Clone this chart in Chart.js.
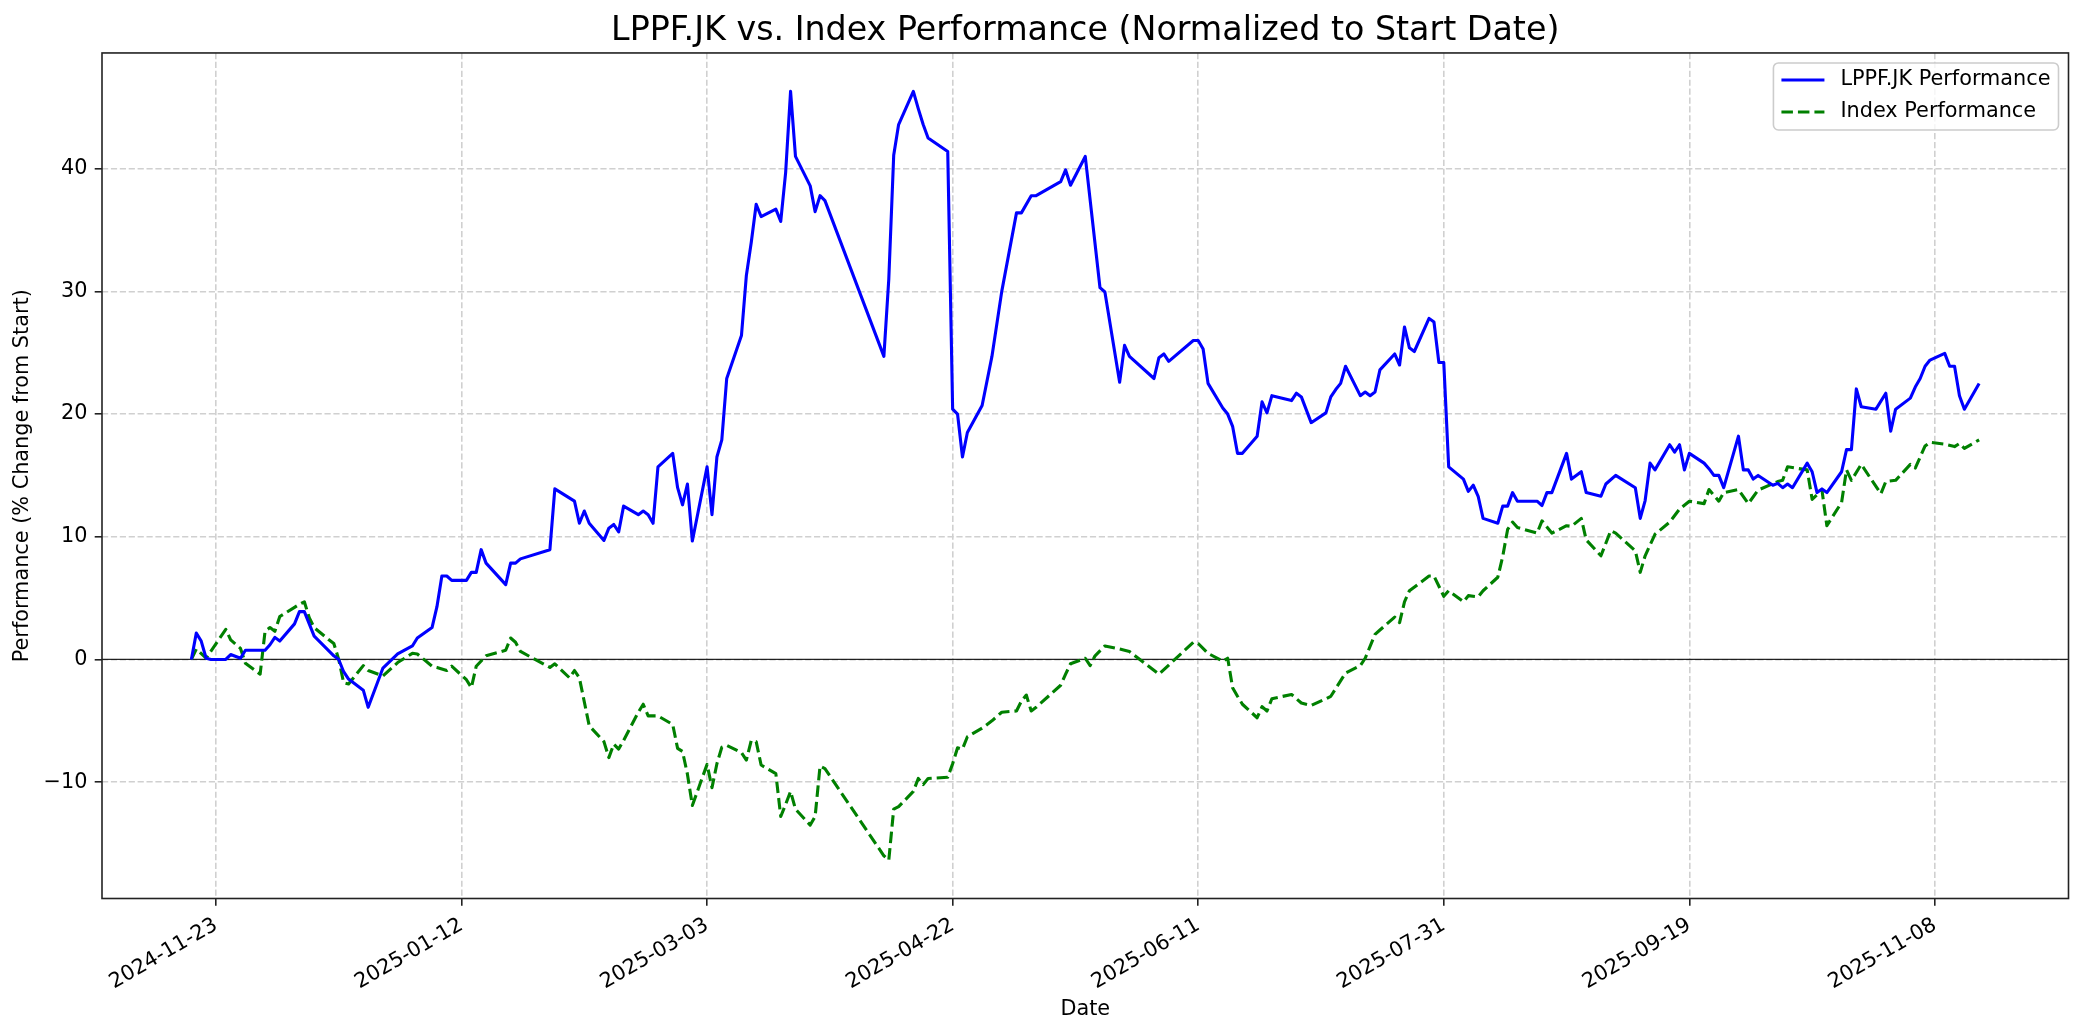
<!DOCTYPE html>
<html>
<head>
<meta charset="utf-8">
<title>LPPF.JK vs. Index Performance</title>
<script src="https://cdn.jsdelivr.net/npm/chart.js@4.4.1/dist/chart.umd.min.js"></script>
<style>
  html, body { margin: 0; padding: 0; background: #ffffff; }
  #chart { display: block; }
</style>
</head>
<body>
<canvas id="chart" width="2084" height="1035" style="width:2084px;height:1035px"></canvas>
<script>
// LPPF.JK, % change from 2024-11-18
const lppfDates = [
  '2024-11-18','2024-11-19','2024-11-20','2024-11-21','2024-11-22','2024-11-25','2024-11-26','2024-11-28','2024-11-29','2024-12-03',
  '2024-12-04','2024-12-05','2024-12-06','2024-12-09','2024-12-10','2024-12-11','2024-12-13','2024-12-17','2024-12-18','2024-12-19',
  '2024-12-20','2024-12-23','2024-12-24','2024-12-27','2024-12-30','2025-01-02','2025-01-03','2025-01-06','2025-01-07','2025-01-08',
  '2025-01-09','2025-01-10','2025-01-13','2025-01-14','2025-01-15','2025-01-16','2025-01-17','2025-01-21','2025-01-22','2025-01-23',
  '2025-01-24','2025-01-30','2025-01-31','2025-02-04','2025-02-05','2025-02-06','2025-02-07','2025-02-10','2025-02-11','2025-02-12',
  '2025-02-13','2025-02-14','2025-02-17','2025-02-18','2025-02-19','2025-02-20','2025-02-21','2025-02-24','2025-02-25','2025-02-26',
  '2025-02-27','2025-02-28','2025-03-03','2025-03-04','2025-03-05','2025-03-06','2025-03-07','2025-03-10','2025-03-11','2025-03-12',
  '2025-03-13','2025-03-14','2025-03-17','2025-03-18','2025-03-19','2025-03-20','2025-03-21','2025-03-24','2025-03-25','2025-03-26',
  '2025-03-27','2025-04-08','2025-04-09','2025-04-10','2025-04-11','2025-04-14','2025-04-15','2025-04-16','2025-04-17','2025-04-21',
  '2025-04-22','2025-04-23','2025-04-24','2025-04-25','2025-04-28','2025-04-30','2025-05-02','2025-05-05','2025-05-06','2025-05-08',
  '2025-05-09','2025-05-14','2025-05-15','2025-05-16','2025-05-19','2025-05-22','2025-05-23','2025-05-26','2025-05-27','2025-05-28',
  '2025-06-02','2025-06-03','2025-06-04','2025-06-05','2025-06-10','2025-06-11','2025-06-12','2025-06-13','2025-06-16','2025-06-17',
  '2025-06-18','2025-06-19','2025-06-20','2025-06-23','2025-06-24','2025-06-25','2025-06-26','2025-06-30','2025-07-01','2025-07-02',
  '2025-07-04','2025-07-07','2025-07-08','2025-07-09','2025-07-10','2025-07-11','2025-07-14','2025-07-15','2025-07-16','2025-07-17',
  '2025-07-18','2025-07-21','2025-07-22','2025-07-23','2025-07-24','2025-07-25','2025-07-28','2025-07-29','2025-07-30','2025-07-31',
  '2025-08-01','2025-08-04','2025-08-05','2025-08-06','2025-08-07','2025-08-08','2025-08-11','2025-08-12','2025-08-13','2025-08-14',
  '2025-08-15','2025-08-19','2025-08-20','2025-08-21','2025-08-22','2025-08-25','2025-08-26','2025-08-28','2025-08-29','2025-09-01',
  '2025-09-02','2025-09-04','2025-09-08','2025-09-09','2025-09-10','2025-09-11','2025-09-12','2025-09-15','2025-09-16','2025-09-17',
  '2025-09-18','2025-09-19','2025-09-22','2025-09-23','2025-09-24','2025-09-25','2025-09-26','2025-09-29','2025-09-30','2025-10-01',
  '2025-10-02','2025-10-03','2025-10-06','2025-10-07','2025-10-08','2025-10-09','2025-10-10','2025-10-13','2025-10-14','2025-10-15',
  '2025-10-16','2025-10-17','2025-10-20','2025-10-21','2025-10-22','2025-10-23','2025-10-24','2025-10-27','2025-10-29','2025-10-30',
  '2025-10-31','2025-11-03','2025-11-04','2025-11-05','2025-11-06','2025-11-07','2025-11-10','2025-11-11','2025-11-12','2025-11-13',
  '2025-11-14','2025-11-17'
];
const lppfValues = [
  0.0, 2.15, 1.5, 0.1, 0.0, 0.0, 0.4, 0.1, 0.75, 0.75,
  1.2, 1.8, 1.5, 2.9, 3.9, 3.9, 1.9, 0.3, 0.0, -1.0,
  -1.6, -2.5, -3.9, -0.7, 0.45, 1.1, 1.75, 2.6, 4.3, 6.8,
  6.8, 6.45, 6.45, 7.1, 7.1, 8.95, 7.85, 6.1, 7.85, 7.85,
  8.2, 8.95, 13.9, 12.9, 11.1, 12.1, 11.1, 9.7, 10.7, 11.0,
  10.4, 12.5, 11.8, 12.1, 11.8, 11.1, 15.7, 16.8, 14.0, 12.6,
  14.3, 9.65, 15.7, 11.8, 16.5, 17.9, 22.9, 26.4, 31.3, 34.0,
  37.1, 36.1, 36.7, 35.7, 39.7, 46.3, 41.0, 38.6, 36.5, 37.8,
  37.4, 24.7, 31.0, 41.1, 43.6, 46.3, 44.9, 43.6, 42.5, 41.4,
  20.4, 20.0, 16.5, 18.5, 20.7, 24.7, 30.0, 36.4, 36.4, 37.8,
  37.8, 38.95, 39.9, 38.65, 41.0, 30.3, 29.95, 22.6, 25.6, 24.7,
  22.9, 24.6, 24.9, 24.3, 26.0, 26.0, 25.3, 22.5, 20.5, 20.0,
  19.0, 16.8, 16.8, 18.2, 21.0, 20.1, 21.5, 21.1, 21.7, 21.4,
  19.3, 20.1, 21.4, 22.0, 22.5, 23.9, 21.5, 21.8, 21.5, 21.8,
  23.6, 24.9, 24.0, 27.1, 25.4, 25.1, 27.8, 27.5, 24.2, 24.2,
  15.7, 14.7, 13.7, 14.2, 13.3, 11.5, 11.1, 12.5, 12.5, 13.6,
  12.9, 12.9, 12.55, 13.6, 13.6, 16.8, 14.7, 15.3, 13.6, 13.3,
  14.3, 15.0, 14.0, 11.5, 12.95, 16.0, 15.45, 17.5, 16.9, 17.5,
  15.45, 16.8, 16.0, 15.55, 15.0, 15.0, 14.0, 18.2, 15.45, 15.45,
  14.7, 15.0, 14.2, 14.35, 14.0, 14.3, 14.0, 16.0, 15.3, 13.6,
  13.9, 13.6, 15.3, 17.1, 17.1, 22.05, 20.6, 20.4, 21.7, 18.6,
  20.4, 21.3, 22.2, 22.9, 23.9, 24.4, 24.95, 23.9, 23.9, 21.5,
  20.4, 22.5
];

// Index, % change from 2024-11-18
const indexDates = [
  '2024-11-18','2024-11-19','2024-11-21','2024-11-25','2024-11-26','2024-11-28','2024-11-29','2024-12-02','2024-12-03','2024-12-04',
  '2024-12-05','2024-12-06','2024-12-09','2024-12-10','2024-12-11','2024-12-12','2024-12-13','2024-12-16','2024-12-17','2024-12-18',
  '2024-12-19','2024-12-20','2024-12-23','2024-12-24','2024-12-27','2024-12-30','2025-01-02','2025-01-03','2025-01-06','2025-01-07',
  '2025-01-09','2025-01-10','2025-01-13','2025-01-14','2025-01-15','2025-01-17','2025-01-21','2025-01-22','2025-01-23','2025-01-24',
  '2025-01-30','2025-01-31','2025-02-03','2025-02-04','2025-02-05','2025-02-07','2025-02-10','2025-02-11','2025-02-12','2025-02-13',
  '2025-02-14','2025-02-17','2025-02-18','2025-02-19','2025-02-21','2025-02-24','2025-02-25','2025-02-26','2025-02-27','2025-02-28',
  '2025-03-03','2025-03-04','2025-03-05','2025-03-06','2025-03-07','2025-03-10','2025-03-11','2025-03-12','2025-03-13','2025-03-14',
  '2025-03-17','2025-03-18','2025-03-19','2025-03-20','2025-03-21','2025-03-24','2025-03-25','2025-03-26','2025-03-27','2025-04-08',
  '2025-04-09','2025-04-10','2025-04-11','2025-04-14','2025-04-15','2025-04-16','2025-04-17','2025-04-21','2025-04-22','2025-04-23',
  '2025-04-24','2025-04-25','2025-04-28','2025-04-30','2025-05-02','2025-05-05','2025-05-06','2025-05-07','2025-05-08','2025-05-09',
  '2025-05-14','2025-05-15','2025-05-16','2025-05-19','2025-05-20','2025-05-21','2025-05-23','2025-05-26','2025-05-27','2025-05-28',
  '2025-06-03','2025-06-10','2025-06-11','2025-06-13','2025-06-16','2025-06-17','2025-06-18','2025-06-19','2025-06-20','2025-06-23',
  '2025-06-24','2025-06-25','2025-06-26','2025-06-30','2025-07-02','2025-07-04','2025-07-07','2025-07-08','2025-07-11','2025-07-14',
  '2025-07-15','2025-07-17','2025-07-18','2025-07-21','2025-07-22','2025-07-23','2025-07-24','2025-07-28','2025-07-29','2025-07-31',
  '2025-08-01','2025-08-04','2025-08-05','2025-08-07','2025-08-08','2025-08-11','2025-08-12','2025-08-13','2025-08-14','2025-08-15',
  '2025-08-19','2025-08-20','2025-08-22','2025-08-25','2025-08-26','2025-08-28','2025-08-29','2025-09-01','2025-09-03','2025-09-04',
  '2025-09-08','2025-09-09','2025-09-10','2025-09-12','2025-09-15','2025-09-17','2025-09-19','2025-09-22','2025-09-23','2025-09-25',
  '2025-09-26','2025-09-29','2025-10-01','2025-10-03','2025-10-07','2025-10-08','2025-10-09','2025-10-13','2025-10-14','2025-10-16',
  '2025-10-17','2025-10-20','2025-10-21','2025-10-22','2025-10-24','2025-10-28','2025-10-29','2025-10-31','2025-11-03','2025-11-04',
  '2025-11-06','2025-11-07','2025-11-10','2025-11-12','2025-11-13','2025-11-14','2025-11-17'
];
const indexValues = [
  0.0, 0.85, 0.1, 2.45, 1.6, 0.9, -0.3, -1.2, 2.3, 2.6,
  2.3, 3.5, 4.25, 4.5, 4.7, 3.4, 2.6, 1.6, 1.3, 0.0,
  -1.9, -2.0, -0.5, -0.9, -1.35, -0.25, 0.5, 0.45, -0.55, -0.65,
  -0.9, -0.55, -1.65, -2.3, -0.55, 0.3, 0.75, 1.75, 1.4, 0.65,
  -0.65, -0.35, -1.5, -0.9, -1.5, -5.4, -6.7, -8.0, -6.9, -7.3,
  -6.6, -4.3, -3.65, -4.6, -4.6, -5.3, -7.25, -7.5, -9.35, -11.9,
  -8.55, -10.45, -8.5, -7.15, -7.0, -7.6, -8.2, -6.6, -6.7, -8.6,
  -9.3, -12.8, -11.8, -10.75, -12.2, -13.5, -12.8, -8.7, -8.9, -16.0,
  -16.35, -12.2, -12.0, -10.75, -9.7, -10.2, -9.7, -9.6, -8.5, -7.2,
  -7.3, -6.3, -5.6, -5.0, -4.3, -4.2, -3.4, -2.9, -4.2, -3.9,
  -2.1, -1.2, -0.35, 0.1, -0.5, 0.3, 1.1, 0.85, 0.75, 0.65,
  -1.2, 1.4, 1.3, 0.5, -0.15, 0.1, -2.3, -3.0, -3.65, -4.75,
  -3.85, -4.2, -3.2, -2.85, -3.55, -3.75, -3.2, -3.0, -1.1, -0.5,
  0.1, 2.05, 2.4, 3.45, 3.0, 4.7, 5.6, 6.8, 6.8, 5.15,
  5.6, 4.7, 5.2, 5.1, 5.6, 6.7, 8.4, 10.6, 11.2, 10.75,
  10.3, 11.3, 10.3, 10.9, 10.85, 11.5, 9.75, 8.45, 10.5, 10.3,
  8.85, 7.1, 8.45, 10.2, 11.2, 12.25, 12.9, 12.7, 13.85, 12.9,
  13.6, 13.85, 12.7, 13.8, 14.5, 14.6, 15.7, 15.45, 13.05, 13.8,
  10.9, 12.8, 15.45, 14.6, 15.9, 13.5, 14.5, 14.6, 15.9, 15.6,
  17.4, 17.7, 17.55, 17.35, 17.6, 17.2, 17.9
];

const seriesLabels = ['LPPF.JK Performance', 'Index Performance'];
const xTickLabels = ['2024-11-23', '2025-01-12', '2025-03-03', '2025-04-22', '2025-06-11', '2025-07-31', '2025-09-19', '2025-11-08'];
const yTickValues = [-10, 0, 10, 20, 30, 40];

const FONT = '"DejaVu Sans", "Liberation Sans", sans-serif';

function toTime(s) {
    const [y, m, d] = s.split('-').map(Number);
    return Date.UTC(y, m - 1, d);
}

function toPoints(dates, values) {
    return dates.map((d, i) => ({ x: toTime(d), y: values[i] }));
}

// matplotlib-style 5% margins around the data
const allX = lppfDates.concat(indexDates).map(toTime);
const allY = lppfValues.concat(indexValues);
const xMin = Math.min(...allX), xMax = Math.max(...allX);
const yMin = Math.min(...allY), yMax = Math.max(...allY);
const xPad = (xMax - xMin) * 0.05, yPad = (yMax - yMin) * 0.05;

// 0-line, frame and inside legend
const framePlugin = {
    id: 'frame',
    beforeDatasetsDraw(chart) {
        const { ctx, chartArea, scales } = chart;
        const y0 = scales.y.getPixelForValue(0);
        ctx.save();
        ctx.strokeStyle = 'rgba(0,0,0,0.85)';
        ctx.lineWidth = 1.3;
        ctx.beginPath();
        ctx.moveTo(chartArea.left, y0);
        ctx.lineTo(chartArea.right, y0);
        ctx.stroke();
        ctx.restore();
    },
    afterDraw(chart) {
        const { ctx, chartArea } = chart;
        ctx.save();
        ctx.strokeStyle = '#222222';
        ctx.lineWidth = 1.6;
        ctx.strokeRect(chartArea.left, chartArea.top, chartArea.right - chartArea.left, chartArea.bottom - chartArea.top);

        // legend, upper right
        ctx.font = '20.8px ' + FONT;
        const items = chart.data.datasets;
        const textW = Math.max(...items.map(ds => ctx.measureText(ds.label).width));
        const pad = 8, handle = 43, gap = 16, rowH = 32;
        const w = pad + handle + gap + textW + pad;
        const h = 17 + rowH * (items.length - 1) + 18;
        const bx = chartArea.right - 10 - w;
        const by = chartArea.top + 10;
        ctx.beginPath();
        ctx.roundRect(bx, by, w, h, 5);
        ctx.fillStyle = 'rgba(255,255,255,0.8)';
        ctx.fill();
        ctx.strokeStyle = '#cccccc';
        ctx.lineWidth = 1.6;
        ctx.stroke();
        items.forEach((ds, i) => {
            const cy = by + 17 + rowH * i;
            ctx.beginPath();
            ctx.setLineDash(ds.borderDash || []);
            ctx.strokeStyle = ds.borderColor;
            ctx.lineWidth = ds.borderWidth;
            ctx.moveTo(bx + pad, cy);
            ctx.lineTo(bx + pad + handle, cy);
            ctx.stroke();
            ctx.setLineDash([]);
            ctx.fillStyle = '#000000';
            ctx.textBaseline = 'middle';
            ctx.textAlign = 'left';
            ctx.fillText(ds.label, bx + pad + handle + gap, cy);
        });
        ctx.restore();
    }
};

const ctx = document.getElementById('chart').getContext('2d');
new Chart(ctx, {
    type: 'line',
    data: {
        datasets: [{
            label: seriesLabels[0],
            data: toPoints(lppfDates, lppfValues),
            borderColor: '#0000ff',
            borderWidth: 3.1,
            borderJoinStyle: 'round',
            pointRadius: 0,
            tension: 0,
            fill: false,
        }, {
            label: seriesLabels[1],
            data: toPoints(indexDates, indexValues),
            borderColor: '#008000',
            borderWidth: 3.1,
            borderDash: [11.5, 5],
            borderJoinStyle: 'round',
            pointRadius: 0,
            tension: 0,
            fill: false,
        }],
    },
    options: {
        responsive: false,
        devicePixelRatio: 1,
        animation: false,
        layout: { padding: { left: 0, right: 15.5, top: 0, bottom: 0 } },
        plugins: {
            legend: { display: false },
            tooltip: { enabled: false },
            title: {
                display: true,
                text: 'LPPF.JK vs. Index Performance (Normalized to Start Date)',
                color: '#000000',
                font: { family: FONT, size: 33.3, weight: 'normal' },
                padding: { top: 11, bottom: 2 },
                fullSize: false,
            },
        },
        scales: {
            x: {
                type: 'linear',
                min: xMin - xPad,
                max: xMax + xPad,
                afterBuildTicks: (scale) => {
                    scale.ticks = xTickLabels.map(l => ({ value: toTime(l) }));
                },
                afterFit: (scale) => { scale.height = 136.5; },
                ticks: {
                    autoSkip: false,
                    minRotation: 30,
                    maxRotation: 30,
                    padding: 7,
                    color: '#000000',
                    font: { family: FONT, size: 20.8 },
                    callback: (value, index) => xTickLabels[index],
                },
                grid: {
                    color: '#d0d0d0',
                    lineWidth: 1.6,
                    tickLength: 7.3,
                    tickColor: '#222222',
                    tickWidth: 1.6,
                },
                border: { display: false, dash: [6.2, 2.7] },
                title: {
                    display: true,
                    text: 'Date',
                    color: '#000000',
                    font: { family: FONT, size: 20.8 },
                    padding: { top: 0, bottom: 12.5 },
                },
            },
            y: {
                type: 'linear',
                min: yMin - yPad,
                max: yMax + yPad,
                afterBuildTicks: (scale) => {
                    scale.ticks = yTickValues.map(v => ({ value: v }));
                },
                afterFit: (scale) => { scale.width = 102; },
                ticks: {
                    padding: 7.3,
                    color: '#000000',
                    font: { family: FONT, size: 20.8 },
                    callback: (value) => (value < 0 ? '\u2212' + Math.abs(value) : String(value)),
                },
                grid: {
                    color: '#d0d0d0',
                    lineWidth: 1.6,
                    tickLength: 7.3,
                    tickColor: '#222222',
                    tickWidth: 1.6,
                },
                border: { display: false, dash: [6.2, 2.7] },
                title: {
                    display: true,
                    text: 'Performance (% Change from Start)',
                    color: '#000000',
                    font: { family: FONT, size: 20.8 },
                    padding: { top: 10.5, bottom: 0 },
                },
            },
        },
    },
    plugins: [framePlugin],
});
</script>
</body>
</html>
